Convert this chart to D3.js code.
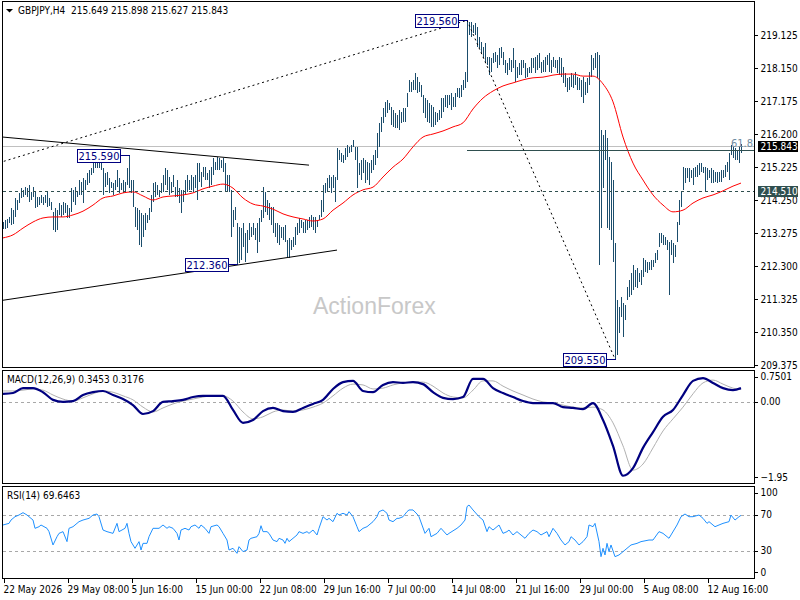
<!DOCTYPE html>
<html>
<head>
<meta charset="utf-8">
<script src="https://cdn.jsdelivr.net/npm/d3@7"></script>
<style>
  body { margin: 0; background: #fff; }
</style>
</head>
<body>
<div id="chart"></div>
<script>
// GBPJPY H4 bars, bar 0 = 22 May 2026 00:00, one bar every 4 hours
var highs = [
  213.60, 213.66, 213.69, 213.75, 214.01, 213.95, 214.31, 214.25, 214.46, 214.60,
  214.55, 214.63, 214.60, 214.69, 214.49, 214.63, 214.49, 214.34, 214.34, 214.40,
  214.34, 214.40, 214.49, 214.31, 214.19, 213.90, 214.01, 213.95, 214.16, 214.10,
  214.19, 214.16, 214.10, 214.01, 214.60, 214.55, 214.63, 214.49, 214.84, 214.78,
  214.90, 214.84, 215.05, 215.14, 215.20, 215.34, 215.52, 215.43, 215.37, 215.34,
  215.20, 215.05, 215.08, 214.90, 214.78, 214.75, 214.84, 215.14, 214.90, 214.75,
  214.84, 214.78, 215.20, 215.59, 214.84, 214.84, 214.04, 214.01, 213.95, 213.87,
  213.81, 213.87, 213.81, 214.01, 214.40, 214.75, 214.78, 214.69, 214.55, 214.75,
  214.99, 215.20, 215.14, 214.93, 214.78, 214.99, 214.63, 214.84, 214.60, 214.55,
  214.55, 214.84, 214.99, 214.84, 214.99, 214.93, 214.99, 215.34, 215.34, 215.08,
  215.22, 215.22, 215.05, 215.14, 215.22, 215.49, 215.37, 215.52, 215.49, 215.43,
  215.49, 215.34, 214.99, 214.99, 214.55, 213.95, 214.04, 213.57, 213.45, 213.42,
  213.57, 213.28, 213.36, 213.57, 213.45, 213.57, 213.42, 213.57, 213.72, 213.95,
  214.63, 214.49, 214.25, 214.16, 214.04, 214.04, 213.57, 213.57, 213.51, 213.45,
  213.45, 213.51, 213.07, 213.13, 213.07, 213.16, 213.45, 213.57, 213.72, 213.66,
  213.60, 213.66, 213.66, 213.75, 213.81, 213.75, 213.75, 213.66, 213.81, 214.25,
  214.69, 214.75, 214.90, 214.99, 214.93, 214.99, 214.93, 215.79, 215.73, 215.64,
  215.58, 215.79, 215.88, 215.82, 215.88, 216.02, 215.82, 215.82, 215.34, 215.43,
  215.49, 215.43, 215.37, 215.34, 215.43, 215.58, 215.73, 216.23, 216.53, 216.70,
  216.97, 217.15, 217.20, 217.12, 217.00, 216.91, 216.82, 216.76, 216.91, 216.85,
  216.97, 216.97, 217.41, 217.80, 217.74, 217.80, 218.00, 217.88, 217.74, 217.65,
  217.35, 217.26, 217.20, 217.12, 217.06, 217.00, 216.85, 216.82, 216.91, 217.26,
  217.26, 217.35, 217.35, 217.35, 217.41, 217.29, 217.41, 217.56, 217.56, 217.65,
  217.80, 218.03, 219.56, 219.51, 219.51, 219.42, 219.48, 219.36, 219.07, 218.92,
  218.77, 218.89, 218.48, 218.48, 218.45, 218.59, 218.62, 218.53, 218.74, 218.77,
  218.62, 218.39, 218.30, 218.45, 218.39, 218.74, 218.39, 218.18, 218.30, 218.39,
  218.39, 218.30, 218.15, 218.18, 218.45, 218.45, 218.48, 218.53, 218.59, 218.33,
  218.39, 218.48, 218.53, 218.59, 218.39, 218.48, 218.39, 218.39, 218.48, 218.45,
  218.18, 218.00, 217.86, 217.88, 218.00, 217.94, 218.03, 217.88, 217.86, 217.80,
  217.88, 217.74, 217.86, 218.03, 218.53, 218.45, 218.59, 218.62, 218.53, 216.32,
  216.17, 216.32, 216.08, 215.52, 215.37, 214.84, 212.98, 211.30, 211.09, 211.38,
  211.21, 211.15, 211.68, 211.89, 212.09, 212.33, 212.18, 212.24, 212.09, 212.18,
  212.54, 212.48, 212.42, 212.42, 212.48, 212.48, 212.68, 212.77, 213.28, 213.28,
  213.22, 213.16, 213.07, 213.01, 213.07, 212.98, 212.92, 213.60, 214.25, 214.49,
  215.22, 215.20, 215.20, 215.20, 215.14, 215.20, 215.22, 215.28, 215.34, 215.34,
  215.22, 215.22, 215.20, 215.14, 215.20, 215.14, 215.08, 215.08, 215.08, 215.14,
  215.14, 215.28, 215.37, 215.64, 215.88, 215.82, 215.79, 215.73, 215.82, 215.90
];
var lows = [
  213.39, 213.39, 213.42, 213.57, 213.51, 213.54, 213.75, 213.95, 214.16, 214.31,
  214.34, 214.40, 214.34, 214.19, 214.25, 214.34, 214.01, 214.04, 214.10, 214.16,
  214.10, 214.16, 214.04, 214.07, 213.95, 213.36, 213.30, 213.36, 213.81, 213.75,
  213.81, 213.87, 213.72, 213.72, 213.90, 214.19, 214.10, 214.34, 214.40, 214.40,
  214.16, 214.55, 214.69, 214.75, 214.99, 215.05, 215.20, 215.20, 215.20, 215.14,
  214.40, 214.63, 214.69, 214.46, 214.60, 214.40, 214.55, 214.63, 214.46, 214.55,
  214.46, 214.49, 214.69, 214.60, 214.46, 214.04, 213.45, 213.36, 212.92, 212.86,
  213.16, 213.36, 213.57, 213.66, 213.90, 214.19, 214.34, 214.40, 214.34, 214.46,
  214.49, 214.69, 214.55, 214.40, 214.46, 214.63, 214.34, 214.34, 214.16, 213.87,
  214.19, 214.40, 214.49, 214.55, 214.55, 214.49, 214.60, 214.25, 214.78, 214.63,
  214.93, 214.84, 214.84, 214.60, 214.69, 214.99, 215.14, 215.14, 215.14, 215.20,
  215.08, 214.49, 214.49, 214.49, 213.16, 213.45, 213.66, 212.36, 212.39, 212.48,
  212.86, 212.42, 212.68, 213.07, 213.16, 213.22, 213.07, 212.68, 213.01, 213.60,
  213.72, 213.90, 213.81, 213.66, 213.51, 213.28, 213.16, 212.98, 212.92, 213.13,
  213.07, 213.01, 212.57, 212.54, 212.77, 212.86, 212.92, 213.22, 213.28, 213.42,
  213.28, 213.28, 213.36, 213.42, 213.45, 213.36, 213.28, 213.45, 213.66, 213.75,
  213.90, 214.46, 214.49, 214.60, 214.46, 214.60, 214.19, 214.84, 215.43, 215.37,
  215.34, 215.43, 215.52, 215.64, 215.67, 215.82, 215.43, 214.60, 214.99, 214.84,
  215.05, 214.75, 214.84, 214.69, 215.05, 215.14, 215.28, 215.49, 215.82, 216.26,
  216.53, 216.70, 216.82, 216.91, 216.47, 216.41, 216.38, 216.38, 216.32, 216.53,
  216.55, 216.55, 217.00, 217.44, 217.44, 217.50, 217.50, 217.41, 217.44, 217.29,
  216.82, 216.67, 216.55, 216.53, 216.41, 216.41, 216.47, 216.55, 216.61, 216.67,
  216.85, 217.00, 216.97, 217.06, 216.91, 217.00, 217.00, 217.29, 217.26, 217.29,
  217.50, 217.56, 217.74, 219.13, 219.07, 219.18, 219.13, 218.77, 218.74, 218.59,
  218.45, 218.30, 218.24, 217.94, 218.03, 218.30, 218.33, 218.15, 218.24, 218.45,
  218.24, 218.00, 217.94, 218.09, 218.03, 218.15, 217.74, 217.86, 217.94, 217.94,
  218.15, 217.86, 217.88, 218.00, 218.00, 218.15, 218.00, 218.09, 218.15, 218.00,
  218.03, 218.03, 218.24, 218.03, 218.00, 218.18, 218.15, 218.00, 217.94, 217.88,
  217.71, 217.59, 217.44, 217.50, 217.59, 217.56, 217.65, 217.50, 217.50, 217.29,
  217.12, 217.35, 217.41, 217.65, 217.88, 218.09, 218.15, 217.86, 212.33, 213.42,
  214.60, 215.43, 213.42, 213.36, 213.07, 212.42, 209.55, 209.67, 210.32, 210.79,
  210.20, 210.70, 211.30, 211.38, 211.44, 211.59, 211.68, 211.65, 211.83, 211.74,
  211.98, 212.12, 212.09, 212.18, 212.18, 212.27, 212.39, 212.48, 212.86, 212.98,
  212.92, 212.92, 212.77, 211.44, 212.62, 212.39, 212.57, 213.01, 213.51, 214.04,
  214.55, 214.75, 214.90, 214.78, 214.90, 214.69, 214.93, 214.93, 214.99, 215.08,
  215.05, 214.49, 214.84, 214.90, 214.75, 214.75, 214.78, 214.75, 214.78, 214.78,
  214.90, 214.93, 215.08, 214.84, 215.58, 215.49, 215.43, 215.43, 215.34, 215.63
];

// indicator readings, taken every 5th bar
var sampleBars = [
  0, 5, 10, 15, 20, 25, 30, 35, 40, 45, 50, 55, 60, 65, 70, 75, 80, 85, 90, 95,
  100, 105, 110, 115, 120, 125, 130, 135, 140, 145, 150, 155, 160, 165, 170, 175,
  180, 185, 190, 195, 200, 205, 210, 215, 220, 225, 230, 235, 240, 245, 250, 255,
  260, 265, 270, 275, 280, 285, 290, 295, 300, 305, 310, 315, 320, 325, 330, 335,
  340, 345, 350, 355, 360, 365, 369
];
var maValues = [
  213.13, 213.22, 213.42, 213.60, 213.72, 213.75, 213.75, 213.81, 213.92, 214.10,
  214.31, 214.37, 214.46, 214.49, 214.37, 214.25, 214.34, 214.37, 214.40, 214.46,
  214.58, 214.66, 214.72, 214.60, 214.31, 214.13, 214.07, 213.98, 213.84, 213.75,
  213.69, 213.63, 213.69, 213.95, 214.16, 214.40, 214.55, 214.63, 214.93, 215.22,
  215.46, 215.82, 216.11, 216.20, 216.29, 216.41, 216.53, 216.94, 217.26, 217.47,
  217.62, 217.71, 217.80, 217.86, 217.88, 217.94, 217.97, 217.97, 217.91, 217.91,
  217.68, 217.15, 216.11, 215.34, 214.84, 214.40, 214.10, 213.90, 213.95, 214.16,
  214.31, 214.40, 214.52, 214.66, 214.75
];
var macdValues = [
  0.21, 0.23, 0.35, 0.35, 0.25, 0.06, 0.01, 0.03, 0.18, 0.25,
  0.28, 0.18, 0.08, -0.07, -0.29, -0.22, 0.01, 0.03, 0.06, 0.13,
  0.16, 0.16, 0.16, -0.19, -0.51, -0.44, -0.22, -0.14, -0.22, -0.24,
  -0.14, -0.04, 0.06, 0.33, 0.50, 0.53, 0.28, 0.25, 0.43, 0.50,
  0.48, 0.50, 0.45, 0.25, 0.11, 0.08, 0.13, 0.58, 0.58, 0.35,
  0.23, 0.13, 0.03, -0.02, -0.02, -0.02, -0.12, -0.14, -0.17, -0.02,
  -0.44, -1.08, -1.82, -1.63, -1.13, -0.74, -0.36, -0.19, 0.18, 0.53,
  0.60, 0.48, 0.35, 0.30, 0.35
];
var signalValues = [
  0.28, 0.28, 0.30, 0.33, 0.30, 0.18, 0.08, 0.03, 0.11, 0.21,
  0.28, 0.25, 0.16, 0.06, -0.12, -0.24, -0.14, -0.04, 0.03, 0.08,
  0.13, 0.16, 0.16, 0.03, -0.24, -0.41, -0.36, -0.24, -0.19, -0.22,
  -0.19, -0.12, -0.02, 0.16, 0.35, 0.45, 0.43, 0.33, 0.35, 0.43,
  0.48, 0.50, 0.50, 0.40, 0.23, 0.13, 0.11, 0.30, 0.53, 0.53,
  0.40, 0.28, 0.18, 0.08, 0.01, -0.02, -0.07, -0.12, -0.14, -0.12,
  -0.19, -0.51, -1.08, -1.68, -1.53, -1.13, -0.71, -0.41, -0.12, 0.21,
  0.48, 0.55, 0.45, 0.35, 0.32
];

var rsiBars = [
  0, 3, 4, 6, 8, 10, 12, 13, 15, 16, 18, 19, 22, 23, 25, 27, 28, 30, 32, 33,
  35, 38, 40, 43, 45, 47, 48, 50, 52, 55, 57, 58, 61, 62, 63, 64, 66, 68, 69, 70,
  72, 73, 75, 78, 80, 82, 83, 85, 87, 88, 89, 91, 93, 94, 96, 98, 99, 101, 103, 104,
  107, 108, 110, 112, 113, 115, 117, 118, 120, 122, 123, 124, 127, 128, 129, 130, 132, 133, 135, 137,
  138, 140, 141, 142, 143, 145, 147, 148, 150, 152, 153, 155, 157, 158, 160, 162, 163, 165, 167, 168,
  170, 172, 173, 175, 177, 178, 180, 182, 183, 185, 187, 188, 190, 192, 193, 195, 197, 198, 200, 202,
  203, 205, 207, 208, 211, 213, 214, 217, 219, 222, 223, 227, 229, 231, 232, 233, 235, 238, 240, 242,
  243, 245, 247, 248, 250, 252, 253, 255, 257, 258, 261, 263, 265, 267, 269, 272, 273, 275, 277, 279,
  281, 283, 284, 286, 288, 290, 292, 293, 295, 296, 298, 299, 300, 301, 302, 303, 304, 306, 308, 309,
  312, 314, 317, 319, 323, 325, 328, 330, 333, 334, 337, 339, 341, 343, 345, 348, 350, 352, 353, 356,
  358, 360, 363, 364, 366, 368, 369
];
var rsiValues = [
  58.9, 60.7, 64.4, 68.1, 70.0, 72.6, 70.0, 68.1, 64.4, 55.2, 57.0, 58.9, 55.2, 51.5, 36.7, 45.9, 49.6, 51.5, 40.4, 55.2,
  57.0, 62.6, 64.4, 66.3, 70.0, 71.1, 68.1, 53.3, 51.5, 49.6, 60.7, 51.5, 55.2, 60.7, 49.6, 40.4, 33.0, 40.4, 31.1, 38.5,
  38.5, 45.9, 55.2, 55.2, 58.9, 55.2, 57.0, 55.2, 49.6, 42.2, 53.3, 55.2, 53.3, 57.0, 58.9, 55.2, 58.9, 55.2, 49.6, 57.0,
  58.9, 57.0, 49.6, 42.2, 31.1, 33.0, 27.4, 34.8, 29.3, 31.1, 42.2, 44.1, 45.9, 49.6, 58.1, 51.5, 51.5, 49.6, 42.2, 40.4,
  44.1, 42.2, 38.5, 44.1, 40.4, 44.1, 47.8, 51.5, 49.6, 51.5, 49.6, 53.3, 47.8, 55.2, 68.1, 64.4, 66.3, 62.6, 71.9, 70.0,
  71.9, 70.0, 73.7, 68.1, 57.0, 51.5, 55.2, 57.0, 58.9, 62.6, 68.1, 73.7, 75.6, 71.9, 64.4, 62.6, 66.3, 66.3, 68.1, 73.7,
  75.6, 75.6, 71.1, 68.1, 49.6, 55.2, 45.9, 49.6, 55.2, 47.8, 49.6, 55.2, 58.9, 64.4, 79.3, 81.1, 75.6, 68.1, 64.4, 51.5,
  57.0, 53.3, 57.0, 58.9, 49.6, 51.5, 53.3, 47.8, 51.5, 49.6, 44.1, 49.6, 53.3, 51.5, 47.8, 51.5, 45.9, 55.2, 49.6, 42.2,
  36.7, 40.4, 45.9, 42.2, 36.7, 40.4, 45.9, 58.9, 57.0, 60.7, 40.4, 23.7, 33.0, 25.6, 38.5, 29.3, 36.7, 23.7, 25.6, 27.4,
  33.0, 36.7, 38.5, 40.4, 42.2, 42.2, 51.5, 49.6, 44.1, 47.8, 58.9, 68.1, 71.1, 68.1, 68.1, 70.0, 66.3, 60.7, 62.6, 57.0,
  58.9, 60.7, 62.6, 69.9, 64.4, 68.1, 69.6
];

var priceTicks = [219.125, 218.150, 217.175, 216.200, 215.225, 214.250, 213.275, 212.300, 211.325, 210.350, 209.375];
var macdTicks = [0.7501, 0.00, -1.95];
var rsiTicks = [100, 70, 30, 0];
var timeBars = [0, 32, 64, 96, 128, 160, 192, 224, 256, 288, 320, 352];
var timeLabels = ["22 May 2026", "29 May 08:00", "5 Jun 16:00", "15 Jun 00:00", "22 Jun 08:00", "29 Jun 16:00",
                  "7 Jul 00:00", "14 Jul 08:00", "21 Jul 16:00", "29 Jul 00:00", "5 Aug 08:00", "12 Aug 16:00"];

// drawn objects: [bar, price] anchors
var upperLine = [[-2, 216.12], [153, 215.28]];
var lowerLine = [[-2, 211.27], [167, 212.77]];
var channelLine = [[-2, 215.35], [232, 219.56]];
var fibLine = [[232, 219.56], [306, 209.55]];
var fibLevel = 215.736;
var supportLevel = 214.510;
var bidPrice = 215.843;
var peakBars = [63, 117, 232, 306];
var peakPrices = [215.590, 212.360, 219.560, 209.550];

var FONT = '"DejaVu Sans Condensed", "DejaVu Sans", sans-serif';
var L = 2.5, R = 754.5;
var mainP = { top: 1.5, bottom: 367.5 };
var macdP = { top: 370.5, bottom: 483.5 };
var rsiP = { top: 486.5, bottom: 578.5 };

var x = d3.scaleLinear().domain([0, 369]).range([3, 741]);
var yPrice = d3.scaleLinear().domain([209.375, 219.125]).range([365, 35]);
var yMacd = d3.scaleLinear().domain([-1.95, 0.7501]).range([481, 372]);
var yRsi = d3.scaleLinear().domain([0, 100]).range([578, 488]);

var svg = d3.select("#chart").append("svg")
    .attr("width", 800).attr("height", 600)
    .style("display", "block")
    .style("background", "#fff");

var defs = svg.append("defs");
[["clipMain", mainP], ["clipMacd", macdP], ["clipRsi", rsiP]].forEach(function(c) {
    defs.append("clipPath").attr("id", c[0]).append("rect")
        .attr("x", L).attr("y", c[1].top).attr("width", R - L).attr("height", c[1].bottom - c[1].top);
});

// ---------- main panel ----------
var main = svg.append("g").attr("clip-path", "url(#clipMain)");

main.append("text")
    .attr("x", 313).attr("y", 314)
    .style("font-family", '"Liberation Sans", Arial, sans-serif')
    .style("font-size", "23px")
    .style("fill", "#c8c8c8")
    .text("ActionForex");

main.append("line")
    .attr("x1", L).attr("x2", R)
    .attr("y1", Math.round(yPrice(bidPrice)) + 0.5).attr("y2", Math.round(yPrice(bidPrice)) + 0.5)
    .style("stroke", "#c0c0c0").style("shape-rendering", "crispEdges");

main.selectAll("line.bar").data(highs).enter().append("line")
    .attr("class", "bar")
    .attr("x1", function(d, i) { return x(i) + 0.5; })
    .attr("x2", function(d, i) { return x(i) + 0.5; })
    .attr("y1", function(d) { return yPrice(d); })
    .attr("y2", function(d, i) { return Math.max(yPrice(lows[i]), yPrice(d) + 1); })
    .style("stroke", "#1b4d6c").style("stroke-width", 1)
    .style("shape-rendering", "crispEdges");

var maLine = d3.line()
    .x(function(d, i) { return x(sampleBars[i]); })
    .y(function(d) { return yPrice(d); })
    .curve(d3.curveMonotoneX);
main.append("path").datum(maValues).attr("d", maLine)
    .style("fill", "none").style("stroke", "#ff0000").style("stroke-width", 1);

main.append("line")
    .attr("x1", L).attr("x2", R)
    .attr("y1", Math.round(yPrice(supportLevel)) + 0.5).attr("y2", Math.round(yPrice(supportLevel)) + 0.5)
    .style("stroke", "#2f4f4f").style("stroke-dasharray", "3,3").style("shape-rendering", "crispEdges");

main.append("line")
    .attr("x1", x(fibLine[0][0])).attr("x2", R)
    .attr("y1", Math.round(yPrice(fibLevel)) + 0.5).attr("y2", Math.round(yPrice(fibLevel)) + 0.5)
    .style("stroke", "#2f4f4f").style("shape-rendering", "crispEdges");
main.append("text")
    .attr("x", 731).attr("y", yPrice(fibLevel) - 3)
    .style("font-family", FONT).style("font-size", "11px").style("fill", "#6f8ca2")
    .text("61.8");

var anchorLine = d3.line()
    .x(function(d) { return x(d[0]); })
    .y(function(d) { return yPrice(d[1]); });
[[upperLine, null], [lowerLine, null], [channelLine, "2,3"], [fibLine, "2,3"]].forEach(function(t) {
    main.append("path").datum(t[0]).attr("d", anchorLine)
        .style("fill", "none").style("stroke", "#000").style("stroke-width", 1)
        .style("stroke-dasharray", t[1]);
});

// price labels on the swing points
peakBars.forEach(function(b, k) {
    var py = Math.round(yPrice(peakPrices[k])) + 0.5;
    var bx = x(b) + 0.5;
    var w = 43, h = 13;
    var right = bx - 9;
    main.append("line")
        .attr("x1", right).attr("x2", bx).attr("y1", py).attr("y2", py)
        .style("stroke", "#000080").style("shape-rendering", "crispEdges");
    main.append("rect")
        .attr("x", right - w).attr("y", py - h / 2).attr("width", w).attr("height", h)
        .style("fill", "#fff").style("stroke", "#000080").style("shape-rendering", "crispEdges");
    main.append("text")
        .attr("x", right - w / 2).attr("y", py + 4)
        .attr("text-anchor", "middle")
        .style("font-family", FONT).style("font-size", "11px").style("fill", "#000080")
        .text(d3.format(".3f")(peakPrices[k]));
});

// title
svg.append("path").attr("d", "M6,9 L13,9 L9.5,12.5 Z").style("fill", "#000");
svg.append("text")
    .attr("x", 18).attr("y", 14)
    .style("font-family", FONT).style("font-size", "10px").style("white-space", "pre")
    .text("GBPJPY,H4  215.649 215.898 215.627 215.843");

// ---------- MACD panel ----------
var macdG = svg.append("g").attr("clip-path", "url(#clipMacd)");
macdG.append("line")
    .attr("x1", L).attr("x2", R)
    .attr("y1", Math.round(yMacd(0)) + 0.5).attr("y2", Math.round(yMacd(0)) + 0.5)
    .style("stroke", "#a8a8a8").style("stroke-dasharray", "3,3").style("shape-rendering", "crispEdges");

var macdLine = d3.line()
    .x(function(d, i) { return x(sampleBars[i]); })
    .y(function(d) { return yMacd(d); })
    .curve(d3.curveMonotoneX);
macdG.append("path").datum(signalValues).attr("d", macdLine)
    .style("fill", "none").style("stroke", "#b0b0b0").style("stroke-width", 1);
macdG.append("path").datum(macdValues).attr("d", macdLine)
    .style("fill", "none").style("stroke", "#000080").style("stroke-width", 2.2);

svg.append("text")
    .attr("x", 7).attr("y", 383)
    .style("font-family", FONT).style("font-size", "10px")
    .text("MACD(12,26,9) 0.3453 0.3176");

// ---------- RSI panel ----------
var rsiG = svg.append("g").attr("clip-path", "url(#clipRsi)");
[70, 30].forEach(function(v) {
    rsiG.append("line")
        .attr("x1", L).attr("x2", R)
        .attr("y1", Math.round(yRsi(v)) + 0.5).attr("y2", Math.round(yRsi(v)) + 0.5)
        .style("stroke", "#a8a8a8").style("stroke-dasharray", "3,3").style("shape-rendering", "crispEdges");
});
var rsiLine = d3.line()
    .x(function(d, i) { return x(rsiBars[i]); })
    .y(function(d) { return yRsi(d); });
rsiG.append("path").datum(rsiValues).attr("d", rsiLine)
    .style("fill", "none").style("stroke", "#1e90ff").style("stroke-width", 1);

svg.append("text")
    .attr("x", 7).attr("y", 499)
    .style("font-family", FONT).style("font-size", "10px")
    .text("RSI(14) 69.6463");

// ---------- frames ----------
[mainP, macdP, rsiP].forEach(function(p) {
    svg.append("rect")
        .attr("x", L).attr("y", p.top).attr("width", R - L).attr("height", p.bottom - p.top)
        .style("fill", "none").style("stroke", "#000").style("shape-rendering", "crispEdges");
});

// ---------- axes ----------
function styleAxis(g) {
    g.select(".domain").remove();
    g.selectAll("text").style("font-family", FONT).style("font-size", "10px").style("fill", "#000");
    g.selectAll("line").style("stroke", "#000").style("shape-rendering", "crispEdges");
}

svg.append("g")
    .attr("transform", "translate(" + R + ",0)")
    .call(d3.axisRight(yPrice).tickValues(priceTicks).tickSize(3).tickFormat(d3.format(".3f")))
    .call(styleAxis);

function clampTicks(g, scale, p) {
    g.selectAll(".tick").attr("transform", function(d) {
        var yy = Math.max(p.top + 6.5, Math.min(p.bottom - 6, scale(d)));
        return "translate(0," + yy + ")";
    });
}
svg.append("g")
    .attr("transform", "translate(" + R + ",0)")
    .call(d3.axisRight(yMacd).tickValues(macdTicks).tickSize(3)
        .tickFormat(function(d) { return d === 0.7501 ? "0.7501" : d3.format(".2f")(d); }))
    .call(styleAxis)
    .call(clampTicks, yMacd, macdP);

svg.append("g")
    .attr("transform", "translate(" + R + ",0)")
    .call(d3.axisRight(yRsi).tickValues(rsiTicks).tickSize(3).tickFormat(d3.format("d")))
    .call(styleAxis)
    .call(clampTicks, yRsi, rsiP);

var timeAxis = svg.append("g")
    .attr("transform", "translate(0," + rsiP.bottom + ")")
    .call(d3.axisBottom(x).tickValues(timeBars).tickSize(4)
        .tickFormat(function(d, i) { return timeLabels[i]; }))
    .call(styleAxis);
timeAxis.selectAll(".tick line").attr("x1", 0.5).attr("x2", 0.5);
timeAxis.selectAll(".tick text").attr("text-anchor", "start").attr("x", 0);

// price boxes on the scale
[[bidPrice, "#000"], [supportLevel, "#2f4f4f"]].forEach(function(b) {
    var py = Math.round(yPrice(b[0])) + 0.5;
    svg.append("rect")
        .attr("x", 758).attr("y", py - 5.5).attr("width", 40).attr("height", 11)
        .style("fill", b[1]);
    svg.append("text")
        .attr("x", 760.5).attr("y", py + 3.5)
        .style("font-family", FONT).style("font-size", "10px").style("fill", "#fff")
        .text(d3.format(".3f")(b[0]));
});
</script>
</body>
</html>
